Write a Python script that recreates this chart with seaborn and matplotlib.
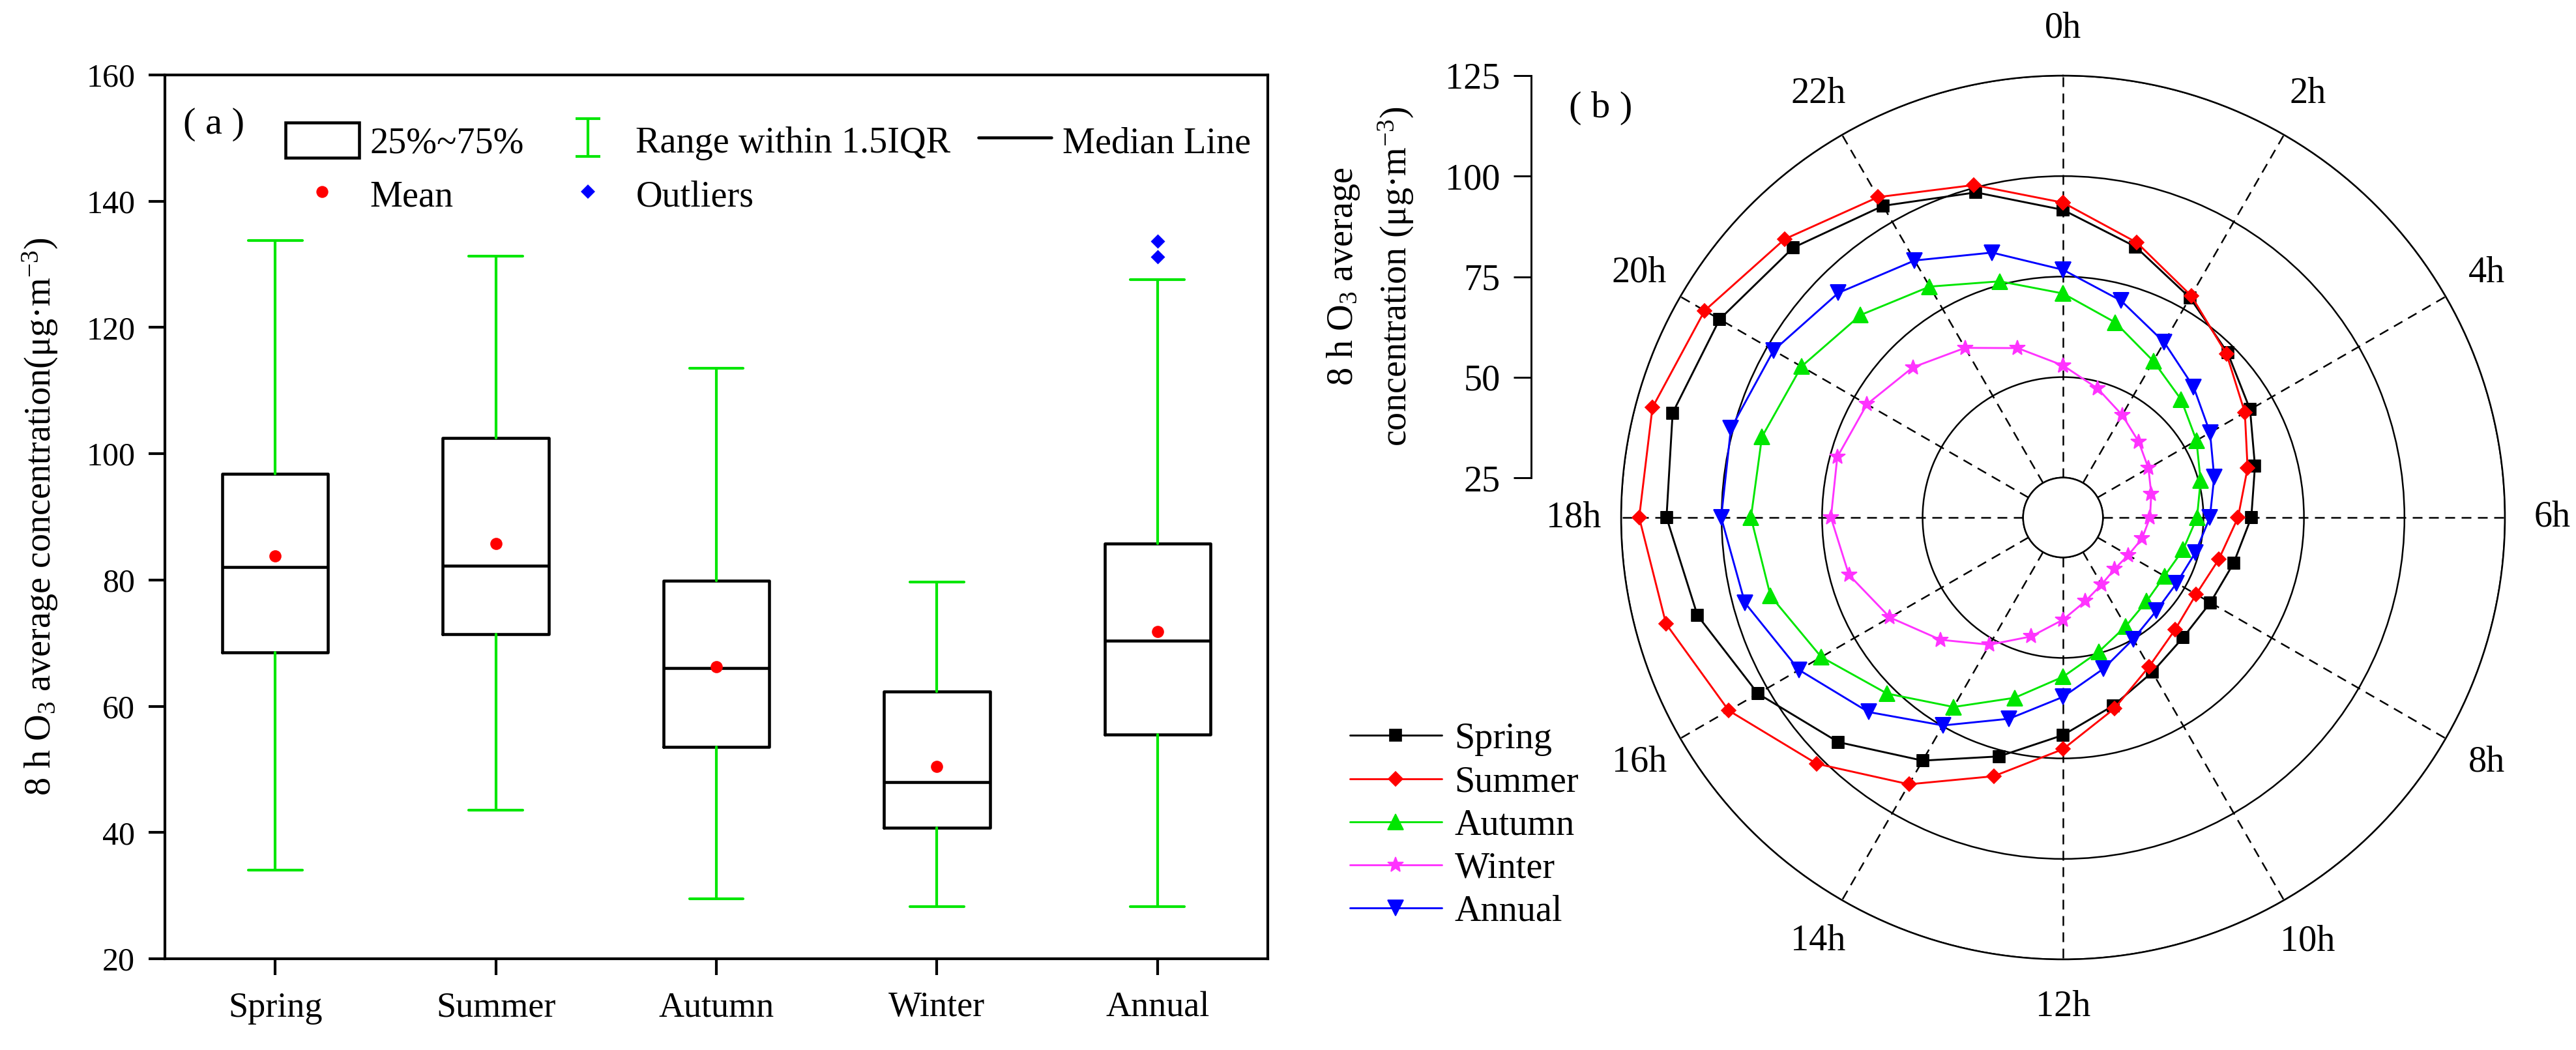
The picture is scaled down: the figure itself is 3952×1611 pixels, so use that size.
import numpy as np
import pandas as pd
import matplotlib
matplotlib.use('Agg')
import matplotlib.pyplot as plt
import matplotlib.transforms as mtransforms
from matplotlib.path import Path
import seaborn as sns
from matplotlib.patches import Patch
from matplotlib.lines import Line2D

# ---------------- data: panel (a) box statistics ----------------
seasons  = ['Spring', 'Summer', 'Autumn', 'Winter', 'Annual']
whis_lo  = [34.0, 43.5, 29.5, 28.3, 28.3]
q1       = [68.5, 71.4, 53.6, 40.8, 55.5]
median   = [82.0, 82.3, 66.0, 48.0, 70.4]
q3       = [96.8, 102.5, 79.9, 62.3, 85.8]
whis_hi  = [133.8, 131.3, 113.5, 79.7, 127.6]
means    = [83.8, 85.8, 66.3, 50.5, 71.8]
out_group = ['Annual', 'Annual']
out_vals  = [131.2, 133.7]

# ---------------- data: panel (b) diurnal cycle ----------------
hours  = list(range(24))
spring = [91.6, 84.8, 78.2, 73.0, 68.8, 64.5, 61.9, 59.0, 57.4, 57.3, 59.5, 63.5,
          69.2, 76.6, 84.9, 94.1, 102.7, 109.2, 113.7, 115.6, 113.7, 110.0, 104.6, 98.8]
summer = [93.4, 85.9, 78.8, 72.6, 67.3, 62.6, 58.6, 55.2, 53.3, 54.5, 57.9, 64.3,
          72.7, 81.7, 91.7, 101.7, 111.1, 117.3, 120.5, 120.8, 118.0, 113.0, 107.1, 100.7]
autumn = [70.8, 65.3, 60.0, 56.6, 53.4, 50.5, 48.4, 46.0, 44.2, 44.5, 46.3, 49.6,
          54.7, 61.5, 69.5, 77.0, 84.5, 90.4, 92.7, 92.6, 90.2, 86.3, 81.4, 75.9]
winter = [52.9, 48.3, 44.5, 41.7, 39.6, 37.8, 36.7, 35.4, 33.8, 33.2, 34.3, 36.6,
          40.5, 45.7, 51.6, 58.1, 64.8, 70.2, 72.8, 73.2, 71.4, 67.9, 63.8, 58.7]
annual = [76.7, 70.9, 65.4, 61.0, 57.3, 54.0, 51.6, 49.1, 47.7, 47.9, 50.0, 54.0,
          59.7, 66.9, 74.8, 83.5, 90.9, 97.0, 100.1, 100.6, 98.2, 94.1, 88.9, 83.3]

GREEN, RED, BLUE, MAG = '#00E600', '#FF0000', '#0000FF', '#FF33FF'

sns.set_style('ticks')
plt.rcParams['font.family'] = ['Liberation Serif', 'DejaVu Serif']
plt.rcParams['mathtext.fontset'] = 'custom'
plt.rcParams['mathtext.rm'] = 'Liberation Serif'
plt.rcParams['mathtext.it'] = 'Liberation Serif:italic'
plt.rcParams['axes.edgecolor'] = 'black'
plt.rcParams['text.color'] = 'black'
plt.rcParams['axes.labelcolor'] = 'black'
plt.rcParams['xtick.color'] = 'black'
plt.rcParams['ytick.color'] = 'black'
plt.rcParams['axes.linewidth'] = 1.0

W, H = 3953, 1611
fig = plt.figure(figsize=(W / 300, H / 300), dpi=300)

# ===== (a) box plot =====
ax = fig.add_axes([253 / W, 1 - 1471 / H, (1945 - 253) / W, (1471 - 115) / H])
stats = [dict(label=s, whislo=a, q1=b, med=c, q3=d, whishi=e, fliers=[])
         for s, a, b, c, d, e in zip(seasons, whis_lo, q1, median, q3, whis_hi)]
ax.bxp(stats, positions=range(len(seasons)), widths=0.48, capwidths=0.245,
       showfliers=False,
       boxprops=dict(color='k', lw=1.1),
       medianprops=dict(color='k', lw=1.1),
       whiskerprops=dict(color=GREEN, lw=1.0),
       capprops=dict(color=GREEN, lw=1.0))
pos = {s: i for i, s in enumerate(seasons)}
mdf = pd.DataFrame({'x': [pos[s] for s in seasons], 'mean': means})
sns.scatterplot(data=mdf, x='x', y='mean', color=RED, marker='o', s=20,
                linewidth=0, ax=ax, zorder=5)
odf = pd.DataFrame({'x': [pos[s] for s in out_group], 'val': out_vals})
sns.scatterplot(data=odf, x='x', y='val', color=BLUE, marker='D', s=14,
                linewidth=0, ax=ax, zorder=5)

ax.set_xlim(-0.5, 4.5)
ax.set_ylim(20, 160)
ax.set_yticks(range(20, 161, 20))
ax.set_xticks(range(len(seasons)))
ax.set_xticklabels(seasons, fontsize=13)
ax.tick_params(axis='y', labelsize=12, length=6, width=1.0, pad=5)
ax.tick_params(axis='x', length=6, width=1.0, pad=6)
ax.set_xlabel('')
ax.set_ylabel(r'8 h O$_{3}$ average concentration(μg·m$^{-3}$)', fontsize=13.5)
ax.yaxis.set_label_coords(-0.095, 0.5)
ax.text(328 / W, 1 - 191 / H, '( a )', transform=fig.transFigure,
        ha='center', va='center', fontsize=14)

# legend keys for the box plot
ibar = Path([(-0.65, -1), (0.65, -1), (0, -1), (0, 1), (-0.65, 1), (0.65, 1)],
            [Path.MOVETO, Path.LINETO, Path.MOVETO, Path.LINETO, Path.MOVETO, Path.LINETO])
h_box = Patch(facecolor='white', edgecolor='k', lw=1.1)
h_mean = Line2D([], [], ls='none', marker='o', color=RED, ms=4.4, mew=0)
h_rng = Line2D([], [], ls='none', marker=ibar, color=GREEN, mec=GREEN, ms=14, mew=1.0)
h_out = Line2D([], [], ls='none', marker='D', color=BLUE, ms=3.6, mew=0)
h_med = Line2D([], [], color='k', lw=1.1)
ax.legend([h_box, h_mean, h_rng, h_out, h_med],
          ['25%~75%', 'Mean', 'Range within 1.5IQR', 'Outliers', 'Median Line'],
          ncol=3, loc='upper left', bbox_to_anchor=(410 / W, 1 - 160 / H),
          bbox_transform=fig.transFigure, frameon=False, borderpad=0,
          handlelength=2.0, handleheight=1.1, handletextpad=0.3,
          columnspacing=0.75, labelspacing=0.43, fontsize=13.5)

# ===== (b) polar diurnal cycle =====
cx, cy, R = 3165, 794, 678
pax = fig.add_axes([(cx - R) / W, 1 - (cy + R) / H, 2 * R / W, 2 * R / H],
                   projection='polar')
pax.set_theta_zero_location('N')
pax.set_theta_direction(-1)

series = {'Spring': spring, 'Summer': summer, 'Autumn': autumn,
          'Winter': winter, 'Annual': annual}
frames = []
for name, vals in series.items():
    hh = np.array(hours + [24])
    frames.append(pd.DataFrame({'theta': np.deg2rad(hh * 15.0),
                                'conc': list(vals) + [vals[0]],
                                'season': name}))
pdf = pd.concat(frames, ignore_index=True)
pal = {'Spring': 'black', 'Summer': RED, 'Autumn': GREEN, 'Winter': MAG, 'Annual': BLUE}
mk = {'Spring': 's', 'Summer': 'D', 'Autumn': '^', 'Winter': '*', 'Annual': 'v'}
ms = {'s': 4.4, 'D': 3.9, '^': 5.8, '*': 6.0, 'v': 5.8}
sns.lineplot(data=pdf, x='theta', y='conc', hue='season', style='season',
             palette=pal, markers=mk, dashes=False, sort=False, estimator=None,
             lw=0.7, ax=pax)
for ln in pax.lines:
    m = ln.get_marker()
    if m in ms:
        ln.set_markersize(ms[m])
        ln.set_markeredgecolor(ln.get_color())
        ln.set_markeredgewidth(0.4)

handles, labels = pax.get_legend_handles_labels()
pax.get_legend().remove()
for h in handles:
    m = h.get_marker()
    if m in ms:
        h.set_markersize(ms[m])
        h.set_markeredgecolor(h.get_color())
        h.set_linewidth(0.7)
fig.legend(handles, labels, loc='upper left', bbox_to_anchor=(2043 / W, 1 - 1080 / H),
           frameon=False, borderpad=0, handlelength=2.5, handletextpad=0.35,
           labelspacing=0.25, fontsize=13.5)

pax.set_ylim(25, 125)
pax.set_rorigin(15.07)
pax.set_yticks([25, 50, 75, 100, 125])
pax.set_yticklabels([])
pax.set_xticks(np.deg2rad(np.arange(0, 360, 30)))
pax.set_xticklabels([f'{h}h' for h in range(0, 24, 2)], fontsize=13.5)
pax.tick_params(axis='x', pad=7)
pax.set_xlabel('')
pax.set_ylabel('')
pax.xaxis.grid(True, color='k', ls=(0, (6, 4)), lw=0.6)
pax.yaxis.grid(True, color='k', ls='-', lw=0.6)
for sp in pax.spines.values():
    sp.set_linewidth(0.6)
    sp.set_color('k')

# radial scale drawn at the left of the polar plot
rax = fig.add_axes([2349.5 / W, 1 - 733 / H, 0.0005, (733 - 116) / H])
rax.set_ylim(25, 125)
rax.set_yticks([25, 50, 75, 100, 125])
rax.set_xticks([])
for s in ['top', 'right', 'bottom']:
    rax.spines[s].set_visible(False)
rax.spines['left'].set_linewidth(0.7)
rax.patch.set_alpha(0)
rax.tick_params(axis='y', labelsize=13.5, length=6.5, width=0.7, pad=5)
rax.set_ylabel('8 h O$_{3}$ average\nconcentration (μg·m$^{-3}$)', fontsize=13.5,
               linespacing=1.5)
rax.yaxis.set_label_coords(2172 / W, 0.5,
                           transform=mtransforms.blended_transform_factory(
                               fig.transFigure, rax.transAxes))
fig.text(2456 / W, 1 - 166 / H, '( b )', ha='center', va='center', fontsize=14)

fig.savefig('out.png', dpi=300)
